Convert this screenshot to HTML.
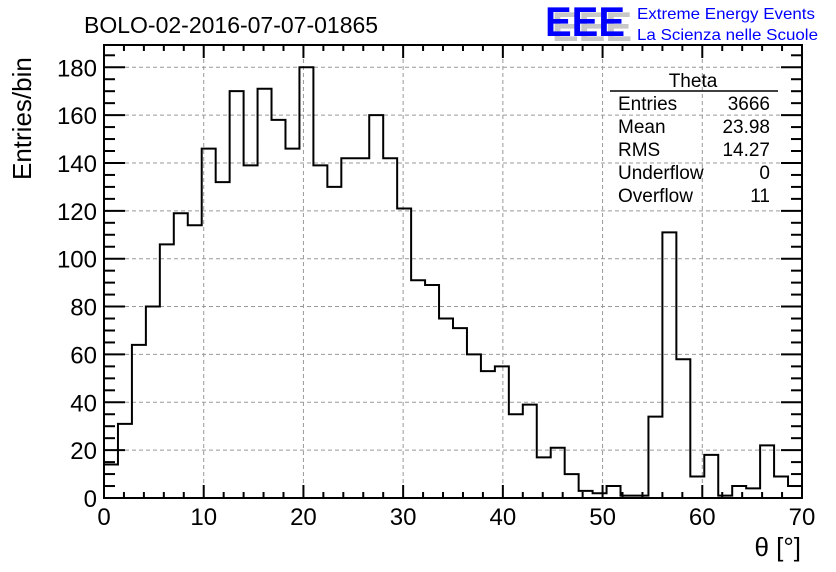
<!DOCTYPE html>
<html><head><meta charset="utf-8"><style>
html,body{margin:0;padding:0;background:#fff;}
svg{display:block;font-family:"Liberation Sans",sans-serif;}
</style></head><body>
<svg id="chart" width="836" height="572" viewBox="0 0 836 572" xmlns="http://www.w3.org/2000/svg">
<rect width="836" height="572" fill="#fff"/>
<g id="grid"></g>
<path id="hist" fill="none" stroke="#000" stroke-width="2"/>
<g id="axes"></g>
<text x="84" y="33" font-size="23">BOLO-02-2016-07-07-01865</text>
<text transform="translate(31,180) rotate(-90)" font-size="26" text-anchor="start">Entries/bin</text>
<text x="801" y="556" font-size="26" text-anchor="end">θ [°]</text>
<g>
<text x="552" y="41" font-size="42" font-weight="bold" fill="#c8c8c8" textLength="80" lengthAdjust="spacingAndGlyphs">EEE</text>
<text x="545" y="36" font-size="42" font-weight="bold" fill="#0000ff" textLength="80" lengthAdjust="spacingAndGlyphs">EEE</text>
<text x="637" y="19" font-size="16" fill="#0000ff" textLength="178" lengthAdjust="spacingAndGlyphs">Extreme Energy Events</text>
<text x="637" y="40" font-size="16" fill="#0000ff" textLength="181" lengthAdjust="spacingAndGlyphs">La Scienza nelle Scuole</text>
</g>
<g font-size="19">
<text x="693" y="87" text-anchor="middle">Theta</text>
<line x1="610" y1="91" x2="778" y2="91" stroke="#000" stroke-width="1.5"/>
<text x="618" y="110">Entries</text><text x="770" y="110" text-anchor="end">3666</text>
<text x="618" y="133">Mean</text><text x="770" y="133" text-anchor="end">23.98</text>
<text x="618" y="156">RMS</text><text x="770" y="156" text-anchor="end">14.27</text>
<text x="618" y="179">Underflow</text><text x="770" y="179" text-anchor="end">0</text>
<text x="618" y="202">Overflow</text><text x="770" y="202" text-anchor="end">11</text>
</g>
</svg>
<script>
const binCounts=[14,31,64,80,106,119,114,146,132,170,139,171,158,146,180,139,130,142,142,160,142,121,91,89,75,71,60,53,55,35,39,17,21,10,3,2,5,1,1,34,111,58,9,18,1,5,4,22,9,5];
const xTicks=[0,10,20,30,40,50,60,70];
const yTicks=[0,20,40,60,80,100,120,140,160,180];
const xMin=0,xMax=70,yMin=0,yMax=189.3;
const L=104,R=802,T=45,B=498;
const NS="http://www.w3.org/2000/svg";
function sx(v){return L+(v-xMin)/(xMax-xMin)*(R-L);}
function sy(v){return B-(v-yMin)/(yMax-yMin)*(B-T);}
function mk(tag,attrs,parent){const e=document.createElementNS(NS,tag);for(const k in attrs)e.setAttribute(k,attrs[k]);parent.appendChild(e);return e;}
const grid=document.getElementById('grid'),axes=document.getElementById('axes');
xTicks.forEach(v=>{if(v>xMin&&v<xMax){const g=mk('line',{x1:sx(v),x2:sx(v),y1:T,y2:B,stroke:'#999','stroke-dasharray':'4,3','stroke-width':1},grid);

}});
yTicks.forEach(v=>{if(v>yMin){const g=mk('line',{x1:L,x2:R,y1:sy(v),y2:sy(v),stroke:'#999','stroke-dasharray':'4,3','stroke-width':1},grid);

}});
const bw=(xMax-xMin)/binCounts.length;
let d='M'+sx(xMin)+','+sy(0);
binCounts.forEach((c,i)=>{d+=' L'+sx(xMin+i*bw)+','+sy(c)+' L'+sx(xMin+(i+1)*bw)+','+sy(c);});
d+=' L'+sx(xMax)+','+sy(0);
document.getElementById('hist').setAttribute('d',d);
const fr=mk('rect',{x:L,y:T,width:R-L,height:B-T,fill:'none',stroke:'#000','stroke-width':2},axes);


for(let v=xMin;v<=xMax;v+=2){const major=v%10===0;const len=major?13:6;
mk('line',{x1:sx(v),x2:sx(v),y1:B,y2:B-len,stroke:'#000','stroke-width':2},axes);
mk('line',{x1:sx(v),x2:sx(v),y1:T,y2:T+len,stroke:'#000','stroke-width':2},axes);}
xTicks.forEach(v=>{const t=mk('text',{x:sx(v),y:B+27,'font-size':24,'text-anchor':'middle'},axes);t.textContent=v;

});
for(let v=0;v<=yMax;v+=5){const major=v%20===0;const len=major?21:11;
mk('line',{x1:L,x2:L+len,y1:sy(v),y2:sy(v),stroke:'#000','stroke-width':2},axes);
mk('line',{x1:R,x2:R-len,y1:sy(v),y2:sy(v),stroke:'#000','stroke-width':2},axes);}
yTicks.forEach(v=>{const t=mk('text',{x:L-7,y:sy(v)+9,'font-size':24,'text-anchor':'end'},axes);t.textContent=v;

});
</script>
</body></html>
